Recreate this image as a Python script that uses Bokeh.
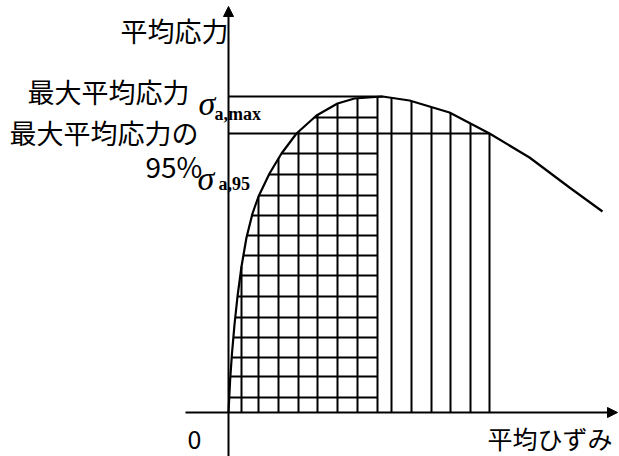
import numpy as np
from bokeh.plotting import figure
from bokeh.models import Range1d, Label, Arrow, NormalHead
from bokeh.embed import file_html
from bokeh.resources import INLINE

# --- data (arbitrary units) ---
strain = [0, 0.03, 0.08, 0.17, 0.3, 0.45, 0.65, 0.9, 1.2, 1.5, 2.05, 2.65, 3.4,
          4.4, 5.45, 6.3, 7.7, 9.05, 11.05, 13.05, 15.05, 17.05, 18.7]
stress = [0, 0.6, 1.6, 2.9, 4.4, 5.8, 7.3, 8.75, 9.95, 10.8, 11.95, 12.95, 13.95,
          14.85, 15.45, 15.7, 15.8, 15.6, 15.0, 13.95, 12.75, 11.25, 10.05]
v_hatch = [0.65, 1.5, 2.5, 3.5, 4.45, 5.45, 6.45, 7.45,
           8.15, 9.15, 10.15, 11.1, 12.1, 13.05]
h_hatch = [0.75, 1.8, 2.75, 3.75, 4.75, 5.8, 6.85, 7.85, 8.85, 9.85,
           10.85, 11.9, 12.95, 14.75]
cross_end = 7.45
strain_95 = 13.05
stress_95 = 13.95

cx = np.array(strain, dtype=float)
cy = np.array(stress, dtype=float)
ipk = int(np.argmax(cy))
peak_x, peak_y = cx[ipk], cy[ipk]

p = figure(width=619, height=456, x_range=Range1d(-11.4, 19.55),
           y_range=Range1d(-2.2, 20.6), output_backend="svg",
           toolbar_location=None, x_axis_type=None, y_axis_type=None,
           min_border=0)
p.outline_line_color = None
p.background_fill_color = "white"
p.border_fill_color = "white"

LW = 2
# vertical hatch lines: from strain axis up to the curve
vx = np.array(v_hatch)
vtop = np.interp(vx, cx, cy)
p.segment(x0=vx, y0=np.zeros_like(vx), x1=vx, y1=vtop, line_color="black", line_width=LW)

# horizontal hatch lines: from rising branch of curve to end of cross-hatched area
hy = np.array(h_hatch)
hleft = np.interp(hy, cy[:ipk + 1], cx[:ipk + 1])
p.segment(x0=hleft, y0=hy, x1=np.full_like(hy, cross_end), y1=hy, line_color="black", line_width=LW)

# sigma max and 95% lines
p.segment(x0=[0, 0], y0=[peak_y, stress_95], x1=[peak_x, strain_95], y1=[peak_y, stress_95],
          line_color="black", line_width=LW)

# curve
p.line(cx, cy, line_color="black", line_width=2.2)

# axes with arrows
head = lambda: NormalHead(size=10, fill_color="black", line_color="black", line_width=1)
p.add_layout(Arrow(end=head(), x_start=-2.15, y_start=0, x_end=19.45, y_end=0,
                   line_color="black", line_width=LW))
p.add_layout(Arrow(end=head(), x_start=0, y_start=-2.2, x_end=0, y_end=20.3,
                   line_color="black", line_width=LW))

JP = "Noto Sans CJK JP"
SERIF = "Liberation Serif"

def lab(x, y, t, font=JP, size="27px", style="normal", base="middle"):
    p.add_layout(Label(x=x, y=y, text=t, text_font=font, text_font_size=size,
                       text_font_style=style, text_baseline=base, text_align="left",
                       text_color="black"))

lab(-5.4, 19.1, "平均応力")
lab(-10.05, 16.075, "最大平均応力")
lab(-1.5, 15.45, "σ", font=SERIF, size="34px", style="italic", base="alphabetic")
lab(-0.7, 14.95, "a,max", font=SERIF, size="18px", style="bold", base="alphabetic")
lab(-10.95, 14.025, "最大平均応力の")
lab(-4.15, 12.32, "95%", size="28px")
lab(-1.55, 11.7, "σ", font=SERIF, size="34px", style="italic", base="alphabetic")
lab(-0.5, 11.45, "a,95", font=SERIF, size="18px", style="bold", base="alphabetic")
lab(-2.05, -1.35, "0", size="25px")
lab(12.95, -1.275, "平均ひずみ", size="25px")

open("out.html", "w").write(file_html(p, INLINE))
